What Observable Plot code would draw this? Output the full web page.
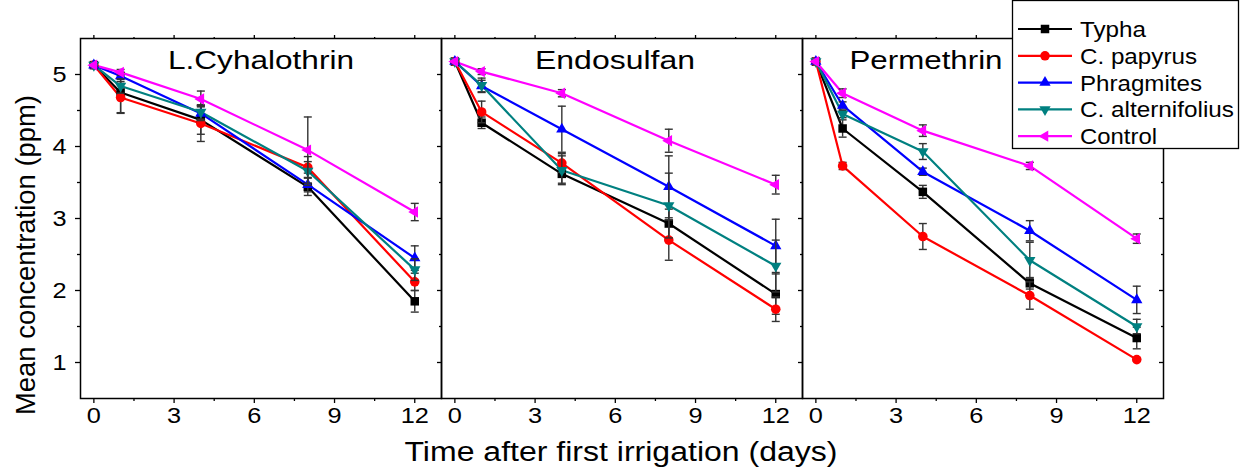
<!DOCTYPE html>
<html><head><meta charset="utf-8">
<script src="https://cdn.jsdelivr.net/npm/d3@7"></script>
<script src="https://cdn.jsdelivr.net/npm/@observablehq/plot@0.6"></script>
<style>
body{margin:0;background:#fff;}
#wrap{position:relative;width:1241px;height:468px;overflow:hidden;background:#fff;}
#chart,#overlay{position:absolute;left:0;top:0;}
</style></head><body>
<div id="wrap"><div id="chart"></div><svg id="overlay" width="1241" height="468"></svg></div>
<script>
const days = [0, 1, 4, 8, 12];
const species = ["Typha", "C. papyrus", "Phragmites", "C. alternifolius", "Control"];
const colors = ["#000000", "#ff0000", "#0000ff", "#008080", "#ff00ff"];
const panels = ["L.Cyhalothrin", "Endosulfan", "Permethrin"];
const xTicks = [0, 3, 6, 9, 12];
const xMinorTicks = [1.5, 4.5, 7.5, 10.5];
const yTicks = [1, 2, 3, 4, 5];
const yMinorTicks = [1.5, 2.5, 3.5, 4.5];
const xTitle = "Time after first irrigation (days)";
const yTitle = "Mean concentration (ppm)";

// rows follow species order, columns follow days
const cyhalothrinMean = [
  [5.13, 4.75, 4.37, 3.44, 1.85],
  [5.13, 4.68, 4.32, 3.71, 2.12],
  [5.13, 4.98, 4.46, 3.47, 2.45],
  [5.13, 4.84, 4.48, 3.66, 2.29],
  [5.13, 5.03, 4.66, 3.95, 3.09]
];
const cyhalothrinErr = [
  [0.02, 0.28, 0.20, 0.12, 0.15],
  [0.02, 0.22, 0.25, 0.08, 0.12],
  [0.02, 0.05, 0.10, 0.10, 0.17],
  [0.02, 0.10, 0.10, 0.20, 0.15],
  [0.02, 0.04, 0.11, 0.46, 0.12]
];
const endosulfanMean = [
  [5.18, 4.33, 3.62, 2.93, 1.95],
  [5.18, 4.48, 3.77, 2.70, 1.74],
  [5.18, 4.84, 4.24, 3.44, 2.62],
  [5.18, 4.85, 3.67, 3.18, 2.34],
  [5.18, 5.04, 4.74, 4.08, 3.47]
];
const endosulfanErr = [
  [0.02, 0.08, 0.13, 0.20, 0.28],
  [0.02, 0.15, 0.13, 0.28, 0.17],
  [0.02, 0.08, 0.32, 0.43, 0.37],
  [0.02, 0.10, 0.20, 0.45, 0.36],
  [0.02, 0.04, 0.05, 0.16, 0.13]
];
const permethrinMean = [
  [5.18, 4.25, 3.37, 2.10, 1.34],
  [5.18, 3.73, 2.75, 1.93, 1.04],
  [5.18, 4.57, 3.65, 2.83, 1.87],
  [5.18, 4.45, 3.93, 2.42, 1.50],
  [5.18, 4.74, 4.22, 3.73, 2.72]
];
const permethrinErr = [
  [0.02, 0.12, 0.09, 0.08, 0.15],
  [0.02, 0.05, 0.18, 0.19, 0.02],
  [0.02, 0.05, 0.05, 0.14, 0.19],
  [0.02, 0.05, 0.11, 0.25, 0.10],
  [0.02, 0.06, 0.08, 0.05, 0.065]
];

const panelMeans = [cyhalothrinMean, endosulfanMean, permethrinMean];
const panelErrs = [cyhalothrinErr, endosulfanErr, permethrinErr];
const rows = [];
panels.forEach((p, pi) => species.forEach((s, si) => days.forEach((d, di) =>
  rows.push({panel: p, species: s, day: d, mean: panelMeans[pi][si][di], err: panelErrs[pi][si][di]}))));

const sqrt3 = Math.sqrt(3);
const triDown = {draw(c, size) { const y = -Math.sqrt(size / (sqrt3 * 3)); c.moveTo(0, -2 * y); c.lineTo(-sqrt3 * y, y); c.lineTo(sqrt3 * y, y); c.closePath(); }};
const triLeft = {draw(c, size) { const y = -Math.sqrt(size / (sqrt3 * 3)); c.moveTo(2 * y, 0); c.lineTo(-y, -sqrt3 * y); c.lineTo(-y, sqrt3 * y); c.closePath(); }};
const hCap = {draw(c, size) { const w = Math.sqrt(size / Math.PI); c.moveTo(-w, 0); c.lineTo(w, 0); }};
const symbols = [d3.symbolSquare, d3.symbolCircle, d3.symbolTriangle, triDown, triLeft];
const symbolR = [4.8, 4.8, 4.2, 4.2, 4.2];

const marks = [];
species.forEach((s, i) => {
  const data = rows.filter(d => d.species === s);
  marks.push(Plot.line(data, {fx: "panel", x: "day", y: "mean", stroke: colors[i], strokeWidth: 2.2}));
});
species.forEach((s, i) => {
  const data = rows.filter(d => d.species === s);
  marks.push(Plot.ruleX(data, {fx: "panel", x: "day", y1: d => d.mean - d.err, y2: d => d.mean + d.err, stroke: "#333", strokeWidth: 1.4}));
  marks.push(Plot.dot(data, {fx: "panel", x: "day", y: d => d.mean - d.err, symbol: hCap, r: 4, stroke: "#333", strokeWidth: 1.4, fill: "none"}));
  marks.push(Plot.dot(data, {fx: "panel", x: "day", y: d => d.mean + d.err, symbol: hCap, r: 4, stroke: "#333", strokeWidth: 1.4, fill: "none"}));
  marks.push(Plot.dot(data, {fx: "panel", x: "day", y: "mean", symbol: symbols[i], r: symbolR[i], fill: colors[i], stroke: "none"}));
});

const yTickRows = yTicks.map(v => ({v, panel: panels[0]}));
const chart = Plot.plot({
  width: 1241, height: 468,
  marginTop: 38, marginBottom: 70, marginLeft: 79, marginRight: 77,
  style: {fontFamily: "'Liberation Sans', Arial, sans-serif", color: "#000", background: "transparent"},
  fx: {domain: panels, padding: 0, axis: null},
  x: {domain: [-0.5, 13]},
  y: {domain: [0.5, 5.5]},
  marks: [
    ...marks,
    Plot.axisX({ticks: xTicks, tickSize: 5, tickFormat: () => "", label: null, strokeWidth: 1.3}),
    Plot.axisX({ticks: xMinorTicks, tickSize: 3, tickFormat: () => "", label: null, strokeWidth: 1.3}),
    Plot.axisX({anchor: "top", ticks: xTicks, tickSize: 4, tickFormat: () => "", label: null, strokeWidth: 1.3}),
    Plot.axisX({anchor: "top", ticks: xMinorTicks, tickSize: 2, tickFormat: () => "", label: null, strokeWidth: 1.3}),
    Plot.axisY({ticks: yTicks, tickSize: 5, tickFormat: () => "", label: null, strokeWidth: 1.3}),
    Plot.axisY({ticks: yMinorTicks, tickSize: 3, tickFormat: () => "", label: null, strokeWidth: 1.3}),
    Plot.axisY({anchor: "right", ticks: yTicks, tickSize: 5, dx: -5, tickFormat: () => "", label: null, facetAnchor: null, strokeWidth: 1.3}),
    Plot.axisY({anchor: "right", ticks: yMinorTicks, tickSize: 3, dx: -3, tickFormat: () => "", label: null, facetAnchor: null, strokeWidth: 1.3}),
    Plot.text(xTicks, {x: d => d, text: d => String(d), frameAnchor: "bottom", dy: 17, lineAnchor: "middle", textAnchor: "middle", fontSize: 22, fill: "#000"}),
    Plot.text(yTickRows, {fx: "panel", y: "v", text: d => String(d.v), frameAnchor: "left", dx: -14, textAnchor: "end", lineAnchor: "middle", fontSize: 22, fill: "#000"}),
    Plot.frame({stroke: "#000", strokeWidth: 1.5})
  ]
});
document.getElementById("chart").appendChild(chart);
// the reference's lettering is slightly wide: stretch tick labels horizontally
d3.select(chart).selectAll("text").each(function () {
  const w = this.getComputedTextLength();
  if (w > 0) { this.setAttribute("textLength", (w * 1.15).toFixed(1)); this.setAttribute("lengthAdjust", "spacingAndGlyphs"); }
});

// overlay: titles and legend
const ov = d3.select("#overlay");
const ff = "'Liberation Sans', Arial, sans-serif";
function label(txt, x, y, size, len, rotate) {
  const t = ov.append("text").text(txt).attr("font-family", ff).attr("font-size", size)
    .attr("text-anchor", "middle").attr("fill", "#000");
  if (rotate) t.attr("transform", `translate(${x},${y}) rotate(-90)`);
  else t.attr("x", x).attr("y", y);
  if (len) t.attr("textLength", len).attr("lengthAdjust", "spacingAndGlyphs");
  return t;
}
const titlePos = [[261, 69, 186], [615, 69, 160], [926, 69, 153]];
panels.forEach((p, i) => label(p, titlePos[i][0], titlePos[i][1], 26, titlePos[i][2]));
label(xTitle, 621, 461, 27, 433);
label(yTitle, 35, 255, 28, 320, true);

const lg = ov.append("g").attr("transform", "translate(1012,0)");
lg.append("rect").attr("x", 0.5).attr("y", 0.5).attr("width", 226).attr("height", 148)
  .attr("fill", "#fff").attr("stroke", "#000").attr("stroke-width", 1.3);
const legendLen = [66, 117, 122, 154, 77];
species.forEach((s, i) => {
  const y = 29 + i * 26.8;
  lg.append("line").attr("x1", 6).attr("x2", 60).attr("y1", y).attr("y2", y)
    .attr("stroke", colors[i]).attr("stroke-width", 2.2);
  lg.append("path").attr("transform", `translate(33,${y})`)
    .attr("d", d3.symbol(symbols[i], Math.PI * symbolR[i] * symbolR[i])()).attr("fill", colors[i]);
  lg.append("text").text(s).attr("x", 68).attr("y", y + 8).attr("font-family", ff).attr("font-size", 22)
    .attr("fill", "#000").attr("textLength", legendLen[i]).attr("lengthAdjust", "spacingAndGlyphs");
});
</script>
</body></html>
